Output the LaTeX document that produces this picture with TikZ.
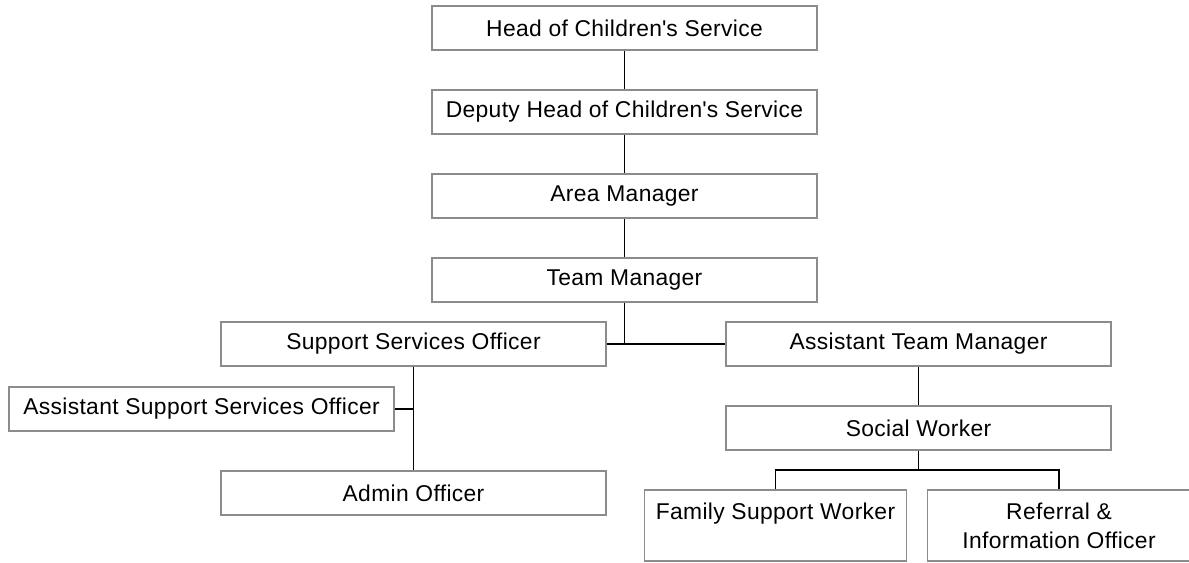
\documentclass[tikz,border=0pt]{standalone}
\usepackage{fontspec}
\setmainfont[LetterSpace=1.5]{Liberation Sans}
\usepackage{tikz}

\definecolor{boxgray}{RGB}{140,140,140}

\begin{document}
\begin{tikzpicture}[x=0.02cm,y=-0.02cm,
	post/.style={draw=boxgray,line width=0.8pt,fill=white,inner sep=0pt,
		minimum width=7.7cm,minimum height=0.88cm,
		font=\fontsize{13}{16.4}\selectfont,align=center},
	lowpost/.style={post,minimum width=5.25cm,minimum height=1.42cm},
	link/.style={draw=black,line width=0.85pt}]
	\clip (0,0) rectangle (1189,562);
	% management line
	\node[post] (head) at (624.5,28) {Head of Children\textquotesingle s Service};
	\node[post] (deputy) at (624.5,112) {Deputy Head of Children\textquotesingle s Service};
	\node[post] (area) at (624.5,196) {Area Manager};
	\node[post] (team) at (624.5,280) {Team Manager};
	% support side
	\node[post] (sso) at (413.5,344) {Support Services Officer};
	\node[post] (asso) at (201.5,409) {Assistant Support Services Officer};
	\node[post] (admin) at (413.5,493) {Admin Officer};
	% social work side
	\node[post] (atm) at (918.5,344) {Assistant Team Manager};
	\node[post] (sw) at (918.5,428) {Social Worker};
	\node[lowpost] (fsw) at (775.5,525.5) {Family Support Worker\\\mbox{}};
	\node[lowpost] (ref) at (1059,525.5) {Referral \&\\Information Officer};
	\coordinate (tj) at (team.south |- sso.east);
	\coordinate (sj) at (sw.south |- 0,470);
	\draw[link] (head) -- (deputy);
	\draw[link] (deputy) -- (area);
	\draw[link] (area) -- (team);
	\draw[link] (team) -- (tj);
	\draw[link] (sso) -- (atm);
	\draw[link] (sso) -- (admin);
	\draw[link] (asso.east) -- (asso.east -| sso.south);
	\draw[link] (atm) -- (sw);
	\draw[link] (sw) -- (sj);
	\draw[link] (fsw.north) |- (sj) -| (ref.north);
\end{tikzpicture}
\end{document}
